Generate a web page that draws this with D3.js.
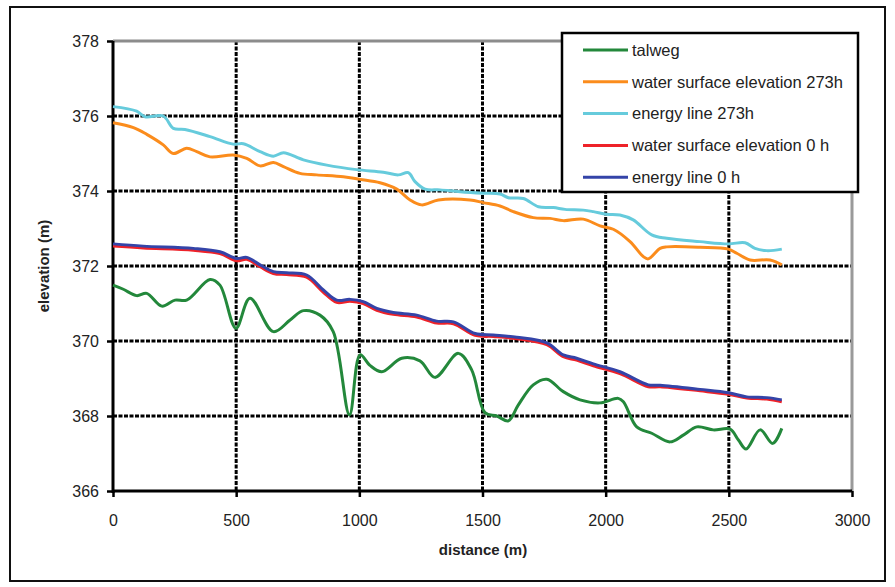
<!DOCTYPE html>
<html>
<head>
<meta charset="utf-8">
<script src="https://cdn.jsdelivr.net/npm/d3@7"></script>
<style>
body { margin:0; background:#fff; }
text { font-family: "Liberation Sans", Arial, sans-serif; }
</style>
</head>
<body>
<div id="myDiv"></div>
<script>
// data
var seriesNames = ["talweg", "water surface elevation 273h", "energy line 273h", "water surface elevation 0 h", "energy line 0 h"];
var seriesColors = ["#23883b", "#fb8c1c", "#66cbdc", "#ee2229", "#3444a8"];

var xTicks = [0, 500, 1000, 1500, 2000, 2500, 3000];
var yTicks = [366, 368, 370, 372, 374, 376, 378];

var talwegDist = [0, 42, 96, 137, 198, 252, 299, 394, 434, 499, 556, 651, 719, 773, 840, 894, 960, 1003, 1043, 1091, 1172, 1246, 1307, 1402, 1456, 1510, 1558, 1605, 1645, 1706, 1761, 1828, 1896, 1977, 2051, 2072, 2126, 2187, 2261, 2315, 2370, 2437, 2505, 2539, 2570, 2627, 2678, 2715];
var talwegElev = [371.49, 371.38, 371.21, 371.27, 370.93, 371.09, 371.09, 371.64, 371.49, 370.34, 371.14, 370.25, 370.56, 370.81, 370.69, 370.25, 368.03, 369.63, 369.35, 369.18, 369.54, 369.47, 369.03, 369.67, 369.23, 368.09, 368.0, 367.87, 368.29, 368.83, 368.98, 368.65, 368.43, 368.35, 368.47, 368.38, 367.71, 367.54, 367.31, 367.49, 367.71, 367.63, 367.65, 367.36, 367.12, 367.63, 367.27, 367.67];

var wse273Dist = [0, 83, 137, 204, 245, 299, 340, 394, 488, 543, 597, 651, 692, 759, 827, 935, 1003, 1084, 1152, 1206, 1253, 1321, 1449, 1503, 1571, 1625, 1706, 1774, 1828, 1909, 1977, 2031, 2099, 2153, 2173, 2221, 2248, 2383, 2498, 2532, 2586, 2667, 2715];
var wse273Elev = [375.82, 375.69, 375.51, 375.23, 375.0, 375.14, 375.05, 374.91, 374.96, 374.87, 374.67, 374.76, 374.65, 374.47, 374.43, 374.38, 374.31, 374.22, 374.05, 373.76, 373.63, 373.76, 373.76, 373.69, 373.6, 373.45, 373.29, 373.27, 373.21, 373.25, 373.07, 372.98, 372.65, 372.25, 372.19, 372.47, 372.51, 372.5, 372.45, 372.34, 372.16, 372.16, 372.03];

var energy273Dist = [0, 96, 130, 204, 245, 292, 394, 488, 529, 597, 651, 692, 773, 868, 989, 1097, 1158, 1199, 1226, 1267, 1328, 1409, 1503, 1571, 1605, 1666, 1727, 1788, 1835, 1909, 1950, 2004, 2058, 2112, 2187, 2248, 2383, 2498, 2566, 2606, 2654, 2715];
var energy273Elev = [376.25, 376.13, 375.98, 376.0, 375.67, 375.64, 375.45, 375.25, 375.26, 375.05, 374.93, 375.02, 374.83, 374.69, 374.57, 374.5, 374.43, 374.49, 374.25, 374.05, 374.03, 373.98, 373.94, 373.92, 373.82, 373.8, 373.58, 373.56, 373.51, 373.49, 373.45, 373.38, 373.36, 373.23, 372.83, 372.74, 372.65, 372.59, 372.62, 372.47, 372.41, 372.45];

var wse0Dist = [0, 123, 326, 434, 502, 543, 597, 651, 705, 786, 854, 908, 962, 1016, 1071, 1138, 1233, 1314, 1382, 1470, 1544, 1639, 1761, 1828, 1882, 1950, 2058, 2173, 2221, 2383, 2498, 2573, 2654, 2715];
var wse0Elev = [372.53, 372.48, 372.42, 372.33, 372.14, 372.18, 371.98, 371.8, 371.77, 371.7, 371.3, 371.03, 371.06, 371.0, 370.82, 370.71, 370.64, 370.48, 370.46, 370.15, 370.12, 370.06, 369.9, 369.58, 369.49, 369.34, 369.13, 368.78, 368.78, 368.67, 368.58, 368.48, 368.45, 368.38];

var energy0Dist = [0, 123, 326, 434, 502, 543, 597, 651, 705, 786, 854, 908, 962, 1016, 1071, 1138, 1233, 1314, 1382, 1470, 1544, 1639, 1761, 1828, 1882, 1950, 2058, 2173, 2221, 2383, 2498, 2573, 2654, 2715];
var energy0Elev = [372.59, 372.53, 372.47, 372.38, 372.2, 372.23, 372.03, 371.85, 371.82, 371.76, 371.36, 371.09, 371.11, 371.05, 370.87, 370.76, 370.69, 370.53, 370.51, 370.2, 370.16, 370.1, 369.95, 369.63, 369.54, 369.39, 369.18, 368.83, 368.82, 368.71, 368.62, 368.51, 368.49, 368.43];

var allDist = [talwegDist, wse273Dist, energy273Dist, wse0Dist, energy0Dist];
var allElev = [talwegElev, wse273Elev, energy273Elev, wse0Elev, energy0Elev];

var W = 895, H = 587;
var plotL = 113, plotR = 852, plotT = 41, plotB = 491;

var svg = d3.select("#myDiv").append("svg")
    .attr("width", W)
    .attr("height", H);

// outer frame
svg.append("rect")
    .attr("x", 10).attr("y", 7)
    .attr("width", 875).attr("height", 574)
    .attr("fill", "#fff")
    .attr("stroke", "#111")
    .attr("stroke-width", 2);

var x = d3.scaleLinear().domain([0, 3000]).range([plotL, plotR]);
var y = d3.scaleLinear().domain([366, 378]).range([plotB, plotT]);

// dashed grid
svg.append("g").selectAll("line")
    .data(yTicks.slice(1, -1))
    .enter().append("line")
    .attr("x1", plotL).attr("x2", plotR)
    .attr("y1", function(d){ return y(d); })
    .attr("y2", function(d){ return y(d); })
    .attr("stroke", "#000")
    .attr("stroke-width", 3)
    .attr("stroke-dasharray", "4,1.5");

svg.append("g").selectAll("line")
    .data(xTicks.slice(1, -1))
    .enter().append("line")
    .attr("x1", function(d){ return x(d); })
    .attr("x2", function(d){ return x(d); })
    .attr("y1", plotT).attr("y2", plotB)
    .attr("stroke", "#000")
    .attr("stroke-width", 3)
    .attr("stroke-dasharray", "4,1.5");

// grey top and right borders of the plot
svg.append("line")
    .attr("x1", plotL).attr("x2", plotR)
    .attr("y1", plotT).attr("y2", plotT)
    .attr("stroke", "#8c8c8c").attr("stroke-width", 3);
svg.append("line")
    .attr("x1", plotR).attr("x2", plotR)
    .attr("y1", plotT).attr("y2", plotB)
    .attr("stroke", "#9a9a9a").attr("stroke-width", 3);

// axes
var xAxis = d3.axisBottom(x).tickValues(xTicks).tickFormat(d3.format("d")).tickSize(6).tickPadding(18);
var yAxis = d3.axisLeft(y).tickValues(yTicks).tickFormat(d3.format("d")).tickSize(6).tickPadding(8);

var gx = svg.append("g")
    .attr("transform", "translate(0," + plotB + ")")
    .call(xAxis);
var gy = svg.append("g")
    .attr("transform", "translate(" + plotL + ",0)")
    .call(yAxis);

[gx, gy].forEach(function(g){
    g.select(".domain").attr("stroke", "#000").attr("stroke-width", 3);
    g.selectAll(".tick line").attr("stroke", "#000").attr("stroke-width", 2.5);
    g.selectAll(".tick text")
        .attr("fill", "#222")
        .style("font-size", "16px")
        .style("font-family", "Liberation Sans, Arial, sans-serif");
});
gx.select(".domain").attr("d", "M" + plotL + ",0H" + plotR);
gy.select(".domain").attr("d", "M0," + plotT + "V" + (plotB + 2));

// axis titles
svg.append("text")
    .attr("x", 483).attr("y", 555)
    .attr("text-anchor", "middle")
    .style("font-size", "15px")
    .style("font-weight", "bold")
    .attr("fill", "#222")
    .text("distance (m)");

svg.append("text")
    .attr("transform", "translate(49,266) rotate(-90)")
    .attr("text-anchor", "middle")
    .style("font-size", "15px")
    .style("font-weight", "bold")
    .attr("fill", "#222")
    .text("elevation (m)");

// series
var line = d3.line()
    .x(function(d){ return x(d[0]); })
    .y(function(d){ return y(d[1]); })
    .curve(d3.curveCatmullRom.alpha(0.5));

var order = [0, 1, 2, 3, 4];
order.forEach(function(i){
    var pts = allDist[i].map(function(d, k){ return [d, allElev[i][k]]; });
    svg.append("path")
        .datum(pts)
        .attr("d", line)
        .attr("fill", "none")
        .attr("stroke", seriesColors[i])
        .attr("stroke-width", 3)
        .attr("stroke-linejoin", "round");
});

// legend
var leg = svg.append("g");
leg.append("rect")
    .attr("x", 562).attr("y", 33)
    .attr("width", 296).attr("height", 159)
    .attr("fill", "#fff")
    .attr("stroke", "#000")
    .attr("stroke-width", 2.5);

var rows = leg.selectAll(".row")
    .data(seriesNames)
    .enter().append("g")
    .attr("class", "row")
    .attr("transform", function(d, i){ return "translate(0," + (50 + i * 31.8) + ")"; });

rows.append("line")
    .attr("x1", 583).attr("x2", 628)
    .attr("y1", 0).attr("y2", 0)
    .attr("stroke", function(d, i){ return seriesColors[i]; })
    .attr("stroke-width", 3);

rows.append("text")
    .attr("x", 632).attr("y", 0)
    .attr("dy", "0.35em")
    .style("font-size", "16.5px")
    .attr("fill", "#222")
    .text(function(d){ return d; });
</script>
</body>
</html>
